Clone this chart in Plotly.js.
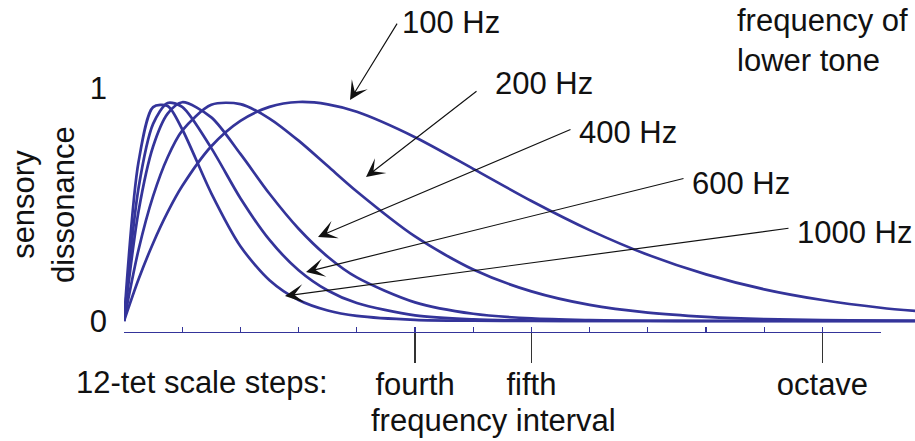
<!DOCTYPE html>
<html>
<head>
<meta charset="utf-8">
<script src="https://cdn.plot.ly/plotly-3.0.1.min.js"></script>
<style>html,body{margin:0;padding:0;background:#fff;}#chart{width:915px;height:441px;}</style>
</head>
<body>
<div id="chart"></div>
<script>
// interval above the lower tone, in 12-tet semitones
const semitones = [0, 0.25, 0.5, 0.75, 1, 1.5, 2, 2.5, 3, 3.5, 4, 5, 6, 7, 8, 9, 10, 11, 12, 13, 13.6];
// sensory dissonance
const hz100  = [0, 0.179, 0.334, 0.467, 0.579, 0.750, 0.859, 0.919, 0.940, 0.930, 0.898, 0.789, 0.653, 0.515, 0.390, 0.284, 0.200, 0.136, 0.090, 0.057, 0.043];
const hz200  = [0, 0.306, 0.536, 0.703, 0.817, 0.928, 0.931, 0.869, 0.774, 0.665, 0.556, 0.363, 0.221, 0.127, 0.069, 0.036, 0.018, 0.008, 0.004, 0.002, 0.001];
const hz400  = [0, 0.471, 0.749, 0.890, 0.939, 0.874, 0.717, 0.546, 0.396, 0.276, 0.187, 0.080, 0.031, 0.011, 0.004, 0.001, 0, 0, 0, 0, 0];
const hz600  = [0, 0.571, 0.846, 0.936, 0.919, 0.742, 0.527, 0.348, 0.218, 0.131, 0.077, 0.024, 0.007, 0.002, 0, 0, 0, 0, 0, 0, 0];
const hz1000 = [0, 0.683, 0.918, 0.923, 0.823, 0.548, 0.321, 0.175, 0.090, 0.045, 0.022, 0.005, 0.001, 0, 0, 0, 0, 0, 0, 0, 0];
const seriesNames = ['100 Hz', '200 Hz', '400 Hz', '600 Hz', '1000 Hz'];
// axis ticks
const scaleSteps = [0, 1, 2, 3, 4, 5, 6, 7, 8, 9, 10, 11, 12, 13];
const namedSteps = [5, 7, 12];
const namedLabels = ['fourth', 'fifth', 'octave'];
const yTicks = [0, 1];
const yLabels = ['0', '1'];

const BLUE = '#34349a';
const TXT = '#111111';
const FONT = '"Liberation Sans", Arial, Helvetica, sans-serif';
const FS = 31;

const all = [hz100, hz200, hz400, hz600, hz1000];
const traces = all.map((ys, i) => ({
  x: semitones, y: ys, name: seriesNames[i], type: 'scatter', mode: 'lines',
  line: {color: BLUE, width: 2.7, shape: 'spline', smoothing: 0.8},
  cliponaxis: false, hoverinfo: 'skip'
}));
traces.push({x: [], y: [], xaxis: 'x2', yaxis: 'y', type: 'scatter', mode: 'lines', showlegend: false});

const xMax = 13.59;

// arrow heads (data coords) and tail offsets (px)
const arrowSpecs = [
  {x: 3.883, y: 0.948, ax: 48,  ay: -78},
  {x: 4.158, y: 0.618, ax: 112, ay: -87},
  {x: 3.333, y: 0.361, ax: 254, ay: -108},
  {x: 3.127, y: 0.210, ax: 379, ay: -94},
  {x: 2.766, y: 0.107, ax: 505, ay: -68}
];
const labelPos = [
  {x: 4.742, y: 1.283},
  {x: 6.340, y: 1.021},
  {x: 7.784, y: 0.807},
  {x: 9.725, y: 0.592},
  {x: 11.529, y: 0.382}
];

const annotations = [];
arrowSpecs.forEach(a => annotations.push({
  x: a.x, y: a.y, xref: 'x', yref: 'y', text: '', showarrow: true,
  ax: a.ax, ay: a.ay, arrowhead: 3, arrowsize: 2.7, arrowwidth: 1.15,
  arrowcolor: '#111', standoff: 0, startstandoff: 0
}));
labelPos.forEach((p, i) => annotations.push({
  x: p.x, y: p.y, xref: 'x', yref: 'y', text: seriesNames[i], showarrow: false,
  xanchor: 'left', yanchor: 'middle', font: {family: FONT, size: FS, color: TXT}
}));
annotations.push({
  x: 10.50, y: 1.202, xref: 'x', yref: 'y', text: 'frequency of<br>lower tone',
  showarrow: false, xanchor: 'left', yanchor: 'middle', align: 'left',
  font: {family: FONT, size: FS, color: TXT}
});
annotations.push({
  x: -0.0632, y: -0.1536, xref: 'paper', yref: 'paper', text: '12-tet scale steps:',
  showarrow: false, xanchor: 'left', yanchor: 'middle',
  font: {family: FONT, size: FS, color: TXT}
});
annotations.push({
  x: 0.4665, y: -0.268, xref: 'paper', yref: 'paper', text: 'frequency interval',
  showarrow: false, xanchor: 'center', yanchor: 'middle',
  font: {family: FONT, size: FS, color: TXT}
});
annotations.push({
  x: -0.1024, y: 0.3825, xref: 'paper', yref: 'paper', text: 'sensory<br>dissonance',
  showarrow: false, xanchor: 'center', yanchor: 'middle', textangle: -90,
  font: {family: FONT, size: FS, color: TXT}
});

const layout = {
  width: 915, height: 441,
  margin: {l: 124, r: 0, t: 0, b: 109},
  paper_bgcolor: '#fff', plot_bgcolor: 'rgba(0,0,0,0)',
  showlegend: false,
  font: {family: FONT, size: FS, color: TXT},
  xaxis: {
    range: [0, xMax], showgrid: false, zeroline: false, showline: false,
    tickmode: 'array', tickvals: namedSteps, ticktext: namedLabels,
    ticks: 'outside', ticklen: 30, tickwidth: 1.6, tickcolor: '#333',
    tickfont: {family: FONT, size: FS, color: TXT}, ticklabelstandoff: -5
  },
  xaxis2: {
    domain: [0, 13 / xMax], anchor: 'y', range: [0, 13],
    showgrid: false, zeroline: false, showline: true, linecolor: BLUE, linewidth: 1.3,
    tickmode: 'array', tickvals: scaleSteps, ticks: 'inside', ticklen: 5,
    tickwidth: 1.3, tickcolor: BLUE, showticklabels: false
  },
  yaxis: {
    range: [-0.0472, 1.3777], showgrid: false, zeroline: false, showline: false,
    tickmode: 'array', tickvals: yTicks, ticktext: yLabels, ticks: '',
    tickfont: {family: FONT, size: FS, color: TXT}, ticklabelstandoff: 16
  },
  annotations: annotations
};

Plotly.newPlot('chart', traces, layout, {displayModeBar: false, staticPlot: true});
</script>
</body>
</html>
